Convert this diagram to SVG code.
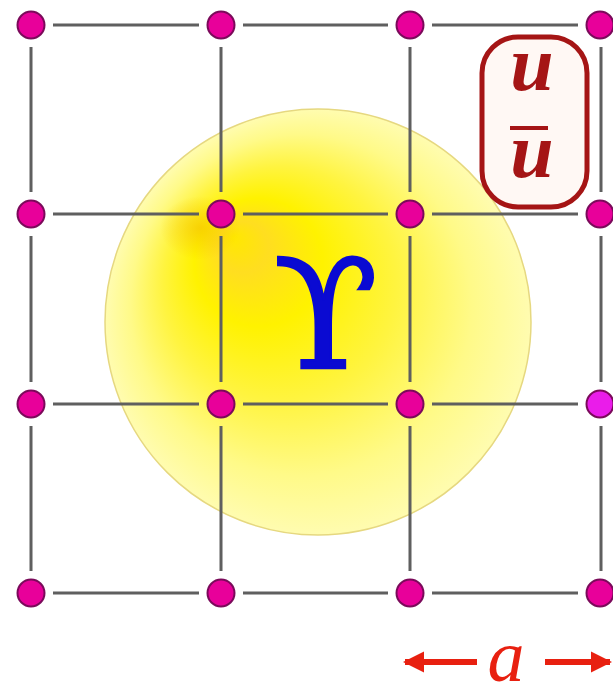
<svg xmlns="http://www.w3.org/2000/svg" width="613" height="696" viewBox="0 0 613 696">
<defs>
<radialGradient id="sph" cx="0.5" cy="0.5" r="0.5" fx="0.3" fy="0.3">
<stop offset="0" stop-color="#FFE800"/>
<stop offset="0.12" stop-color="#FFDE20"/>
<stop offset="0.3" stop-color="#FFF200"/>
<stop offset="0.55" stop-color="#FFF440"/>
<stop offset="0.8" stop-color="#FFFA88"/>
<stop offset="1" stop-color="#FFFCB0"/>
</radialGradient>
<radialGradient id="hot" cx="0.5" cy="0.5" r="0.5">
<stop offset="0" stop-color="#F5C400" stop-opacity="0.7"/>
<stop offset="1" stop-color="#F5C400" stop-opacity="0"/>
</radialGradient>
<marker id="ah" viewBox="0 0 10 10" refX="9" refY="5" markerWidth="3.6" markerHeight="6.6" orient="auto-start-reverse" markerUnits="strokeWidth">
<path d="M0,0 L10,5 L0,10 Z" fill="#E82010"/>
</marker>
</defs>
<style>
.ln{stroke:#5f5f5f;stroke-width:3;fill:none}
.dot{fill:#E8009A;stroke:#7A0A5A;stroke-width:2}
.q{font-family:"Liberation Serif",serif;font-style:italic;font-weight:bold;fill:#A51515;text-anchor:middle}
</style>
<rect width="613" height="696" fill="#FFFFFF"/>
<g id="sphere">
<circle cx="318" cy="322" r="213" fill="url(#sph)" stroke="#E6D880" stroke-width="1.5"/>
<ellipse cx="200" cy="228" rx="40" ry="32" fill="url(#hot)"/>
</g>
<g id="connectors">
<g class="ln">
<path d="M53,25H199M243,25H388M432,25H578"/>
<path d="M53,214H199M243,214H388M432,214H578"/>
<path d="M53,404H199M243,404H388M432,404H578"/>
<path d="M53,593H199M243,593H388M432,593H578"/>
<path d="M31,47V192M31,236V382M31,426V571"/>
<path d="M221,47V192M221,236V382M221,426V571"/>
<path d="M410,47V192M410,236V382M410,426V571"/>
<path d="M601,47V192M601,236V382M601,426V571"/>
</g>
</g>
<g id="lattice">
<circle class="dot" cx="31" cy="25" r="13.5"/>
<circle class="dot" cx="221" cy="25" r="13.5"/>
<circle class="dot" cx="410" cy="25" r="13.5"/>
<circle class="dot" cx="600" cy="25" r="13.5"/>
<circle class="dot" cx="31" cy="214" r="13.5"/>
<circle class="dot" cx="221" cy="214" r="13.5"/>
<circle class="dot" cx="410" cy="214" r="13.5"/>
<circle class="dot" cx="600" cy="214" r="13.5"/>
<circle class="dot" cx="31" cy="404" r="13.5"/>
<circle class="dot" cx="221" cy="404" r="13.5"/>
<circle class="dot" cx="410" cy="404" r="13.5"/>
<circle class="dot" cx="600" cy="404" r="13.5" style="fill:#EA1CEA"/>
<circle class="dot" cx="31" cy="593" r="13.5"/>
<circle class="dot" cx="221" cy="593" r="13.5"/>
<circle class="dot" cx="410" cy="593" r="13.5"/>
<circle class="dot" cx="600" cy="593" r="13.5"/>
</g>
<g id="upsilon">
<text x="326" y="368" font-family="'DejaVu Serif',serif" font-size="152" fill="#0A0AD2" stroke="#0A0AD2" stroke-width="2.5" text-anchor="middle">ϒ</text>
</g>
<g id="quark-box">
<rect x="482" y="37" width="105" height="170" rx="36" ry="36" fill="#FFF8F4" stroke="#A51515" stroke-width="5"/>
<text class="q" x="532" y="90" font-size="78">u</text>
<line x1="510" y1="128" x2="548" y2="128" stroke="#A51515" stroke-width="4"/>
<text class="q" x="532" y="177" font-size="78">u</text>
</g>
<g id="spacing">
<line x1="405" y1="662" x2="477" y2="662" stroke="#E82010" stroke-width="6" marker-start="url(#ah)"/>
<line x1="545" y1="662" x2="610" y2="662" stroke="#E82010" stroke-width="6" marker-end="url(#ah)"/>
<text x="506" y="681" font-family="'Liberation Serif',serif" font-style="italic" font-size="74" fill="#E82010" text-anchor="middle">a</text>
</g>
</svg>
